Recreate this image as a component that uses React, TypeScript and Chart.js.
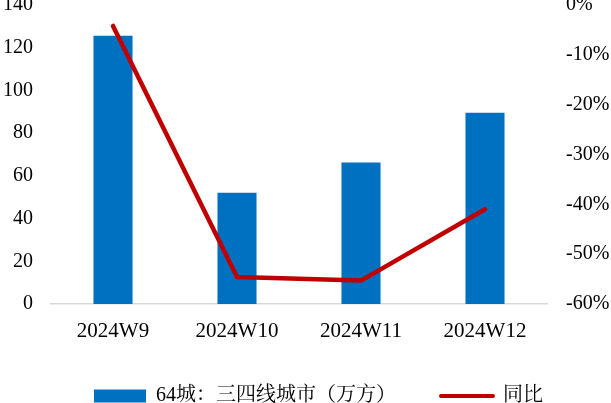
import React, { useEffect, useRef } from "react";
import { Chart, registerables } from "chart.js";

Chart.register(...registerables);

// Weekly sales area, 64 cities: tier-3/4 cities (10k m²) and year-on-year change (%)
const weeks = ["2024W9", "2024W10", "2024W11", "2024W12"];
const areaValues = [125.6, 52.1, 66.3, 89.6];
const yoyPercent = [-4.2, -54.6, -55.3, -41.0];

const barLabel = "64城：三四线城市（万方）";
const lineLabel = "同比";

const BAR_COLOR = "#0070C0";
const LINE_COLOR = "#C00000";
const SERIF = '"Liberation Serif", "Times New Roman", serif';
const LEGEND_FONT = '"Liberation Serif", "Noto Serif CJK SC", "Noto Sans CJK SC", serif';

// Nudges the legend row to the right of the canvas centre.
const legendOffset = {
  id: "legendOffset",
  afterLayout(chart: any) {
    const lg = chart.legend;
    if (lg) lg.left += 26;
  },
};

export default function App() {
  const canvasRef = useRef<HTMLCanvasElement>(null);

  useEffect(() => {
    const canvas = canvasRef.current;
    if (!canvas) return;

    const yFont = { family: SERIF, size: 20 };
    const xFont = { family: SERIF, size: 21 };

    const chart = new Chart(canvas, {
      type: "bar",
      data: {
        labels: weeks,
        datasets: [
          {
            type: "bar",
            label: barLabel,
            data: areaValues,
            backgroundColor: BAR_COLOR,
            yAxisID: "y",
            order: 1,
            categoryPercentage: 1,
            barPercentage: 0.315,
          },
          {
            type: "line",
            label: lineLabel,
            data: yoyPercent,
            borderColor: LINE_COLOR,
            backgroundColor: LINE_COLOR,
            borderWidth: 4.5,
            pointRadius: 0,
            tension: 0,
            borderJoinStyle: "round",
            borderCapStyle: "round",
            yAxisID: "y1",
            order: 0,
          },
        ],
      } as any,
      options: {
        responsive: false,
        animation: false,
        devicePixelRatio: 1,
        layout: { padding: { left: 0, right: 0, top: 5, bottom: 0 } },
        plugins: {
          tooltip: { enabled: false },
          legend: {
            position: "bottom",
            labels: {
              font: { family: LEGEND_FONT, size: 20 },
              color: "#000",
              usePointStyle: true,
              pointStyleWidth: 52,
              boxHeight: 13,
              padding: 45,
              generateLabels: (c: any) =>
                c.data.datasets.map((ds: any, i: number) => ({
                  text: ds.label,
                  datasetIndex: i,
                  pointStyle: ds.type === "line" ? "line" : "rect",
                  fillStyle: ds.backgroundColor,
                  strokeStyle: ds.type === "line" ? ds.borderColor : ds.backgroundColor,
                  lineWidth: ds.type === "line" ? 4 : 0,
                  lineCap: "round",
                  hidden: false,
                  fontColor: "#000",
                })),
            },
          },
        },
        scales: {
          x: {
            grid: { display: false, drawTicks: false },
            border: { display: true, color: "#D9D9D9", width: 1.5 },
            ticks: { font: xFont, color: "#000", padding: 15, maxRotation: 0 },
            afterFit: (s: any) => {
              s.height = 37;
              s.paddingLeft = 0;
              s.paddingRight = 0;
            },
          },
          y: {
            position: "left",
            min: 0,
            max: 140,
            grid: { display: false, drawTicks: false },
            border: { display: false },
            ticks: { stepSize: 20, font: yFont, color: "#000", padding: 18 },
            afterFit: (s: any) => {
              s.width = 51;
              s.paddingTop = 0;
              s.paddingBottom = 0;
            },
          },
          y1: {
            position: "right",
            min: -60,
            max: 0,
            grid: { display: false, drawTicks: false },
            border: { display: false },
            ticks: {
              stepSize: 10,
              font: yFont,
              color: "#000",
              padding: 19,
              callback: (v: any) => `${v}%`,
            },
            afterFit: (s: any) => {
              s.width = 64;
              s.paddingTop = 0;
              s.paddingBottom = 0;
            },
          },
        },
      } as any,
      plugins: [legendOffset],
    });

    return () => chart.destroy();
  }, []);

  return (
    <div style={{ position: "fixed", left: 0, top: 0, width: 611, height: 416, background: "#fff" }}>
      <canvas ref={canvasRef} width={611} height={416} style={{ display: "block" }} />
    </div>
  );
}
